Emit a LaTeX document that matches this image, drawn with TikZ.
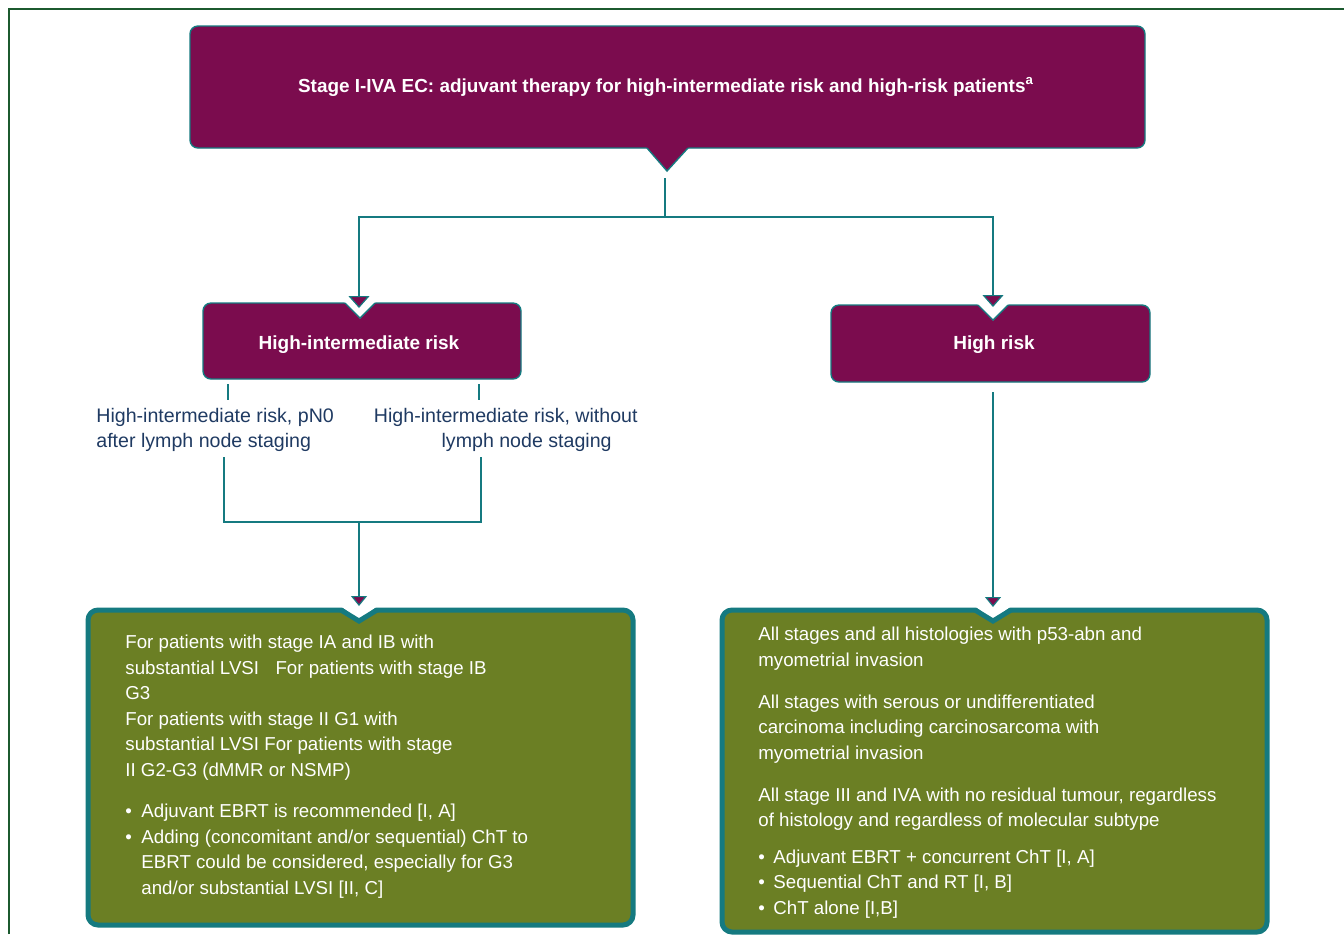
\documentclass[tikz,border=0pt]{standalone}
\usepackage{fontspec}
\setmainfont{Liberation Sans}
\usetikzlibrary{arrows.meta}
\definecolor{plum}{HTML}{7B0C4E}
\definecolor{boxolive}{HTML}{6B7F24}
\definecolor{tealc}{HTML}{157A80}
\definecolor{navyc}{HTML}{1F3A62}
\definecolor{framec}{HTML}{1C5A2F}
\newcommand\bulA{\makebox[8pt][l]{\textbullet}}
\newcommand\indA{\makebox[8pt]{}}
\newcommand\bulB{\makebox[7.5pt][l]{\textbullet}}
\begin{document}
\begin{tikzpicture}[x=0.5pt,y=-0.5pt,
  conn/.style={draw=tealc, line width=1.3pt},
  bigtip/.style={-{Triangle[width=10.5pt,length=6pt,fill=plum,line width=0.6pt]}},
  smalltip/.style={-{Triangle[width=8pt,length=5pt,fill=plum,line width=0.6pt]}},
  pbox/.style={draw=tealc, line width=0.7pt, fill=plum, rounded corners=4pt, inner sep=0pt},
  gbox/.style={draw=tealc, line width=2.5pt, fill=boxolive, rounded corners=5pt, inner sep=0pt},
  btext/.style={text=white, font=\bfseries\fontsize{9.5}{11}\selectfont, anchor=base, inner sep=0pt},
  wtext/.style={text=white, font=\fontsize{9.35}{12.75}\selectfont, align=left, anchor=base west, inner sep=0pt},
  ltext/.style={text=navyc, font=\fontsize{9.8}{12.5}\selectfont, inner sep=0pt, anchor=base west, align=left}]
\useasboundingbox (0,0) rectangle (1344,934);
% frame
\draw[framec, line width=1.2pt] (9,934) -- (9,9) -- (1344,9);

% top box
\node[pbox, minimum width=477.5pt, minimum height=61pt] (topBox) at (667.5,87) {};
\fill[plum] (646,146.5) -- (689,146.5) -- (667,171) -- cycle;
\draw[tealc, line width=0.7pt] (647,148) -- (667,171) -- (688,148);
\node[btext, font=\bfseries\fontsize{9.45}{11}\selectfont] (title) at (666,92) {Stage I-IVA EC: adjuvant therapy for high-intermediate risk and high-risk patients\textsuperscript{a}};

% high-intermediate box
\node[pbox, minimum width=159pt, minimum height=38pt] (hiBox) at (362,341) {};
\fill[white] (344,301.5) -- (376,301.5) -- (360,318.5) -- cycle;
\draw[tealc, line width=0.7pt] (345,303) -- (360,318) -- (375,303);
\node[btext] (hiText) at (359,349) {High-intermediate risk};

% high risk box
\node[pbox, minimum width=159.5pt, minimum height=38.5pt] (hrBox) at (990.5,343.5) {};
\fill[white] (977,303.5) -- (1009,303.5) -- (993,320.5) -- cycle;
\draw[tealc, line width=0.7pt] (978,305) -- (993,320) -- (1008,305);
\node[btext] (hrText) at (994,349) {High risk};

% green boxes
\node[gbox, minimum width=272.5pt, minimum height=157.5pt] (giBox) at (360.5,767.5) {};
\fill[white] (339,605) -- (379,605) -- (359,619.5) -- cycle;
\draw[tealc, line width=2.5pt] (341,610) -- (359,621) -- (377,610);
\node[gbox, minimum width=272.5pt, minimum height=161pt] (grBox) at (994.5,771) {};
\fill[white] (973,605) -- (1013,605) -- (993,619.5) -- cycle;
\draw[tealc, line width=2.5pt] (975,610) -- (993,621) -- (1011,610);

% coordinates
\coordinate (topOut) at (665,178);
\coordinate (jc) at (665,217);
\coordinate (hiTip) at (359,308);
\coordinate (hrTip) at (993,307);
\coordinate (tkA1) at (228,384);
\coordinate (tkA2) at (228,400);
\coordinate (tkB1) at (479,384);
\coordinate (tkB2) at (479,400);
\coordinate (lbA) at (224,457);
\coordinate (cA) at (224,522);
\coordinate (cB) at (481,522);
\coordinate (lbB) at (481,457);
\coordinate (jm) at (359,522);
\coordinate (giTip) at (359,606);
\coordinate (hrOut) at (993,392);
\coordinate (grTip) at (993,607);

% connectors
\draw[conn] (topOut) -- (jc);
\draw[conn, bigtip] (jc) -| (hiTip);
\draw[conn, bigtip] (jc) -| (hrTip);
\draw[conn] (tkA1) -- (tkA2);
\draw[conn] (tkB1) -- (tkB2);
\draw[conn] (lbA) -- (cA) -- (cB) -- (lbB);
\draw[conn, smalltip] (jm) -- (giTip);
\draw[conn, smalltip] (hrOut) -- (grTip);

% labels (anchored at the baseline of their last line)
\node[ltext] (lblA) at (96,447) {High-intermediate risk, pN0\\after lymph node staging};
\node[ltext, align=right, anchor=base east] (lblB) at (638,447) {High-intermediate risk, without\\lymph node staging\makebox[13pt]{}};

% green texts (anchored at the baseline of their last line)
\node[wtext] (giText) at (125,894) {For patients with stage IA and IB with\\
substantial LVSI\hspace{0.6em} For patients with stage IB\\
G3\\
For patients with stage II G1 with\\
substantial LVSI For patients with stage\\
II G2-G3 (dMMR or NSMP)\\[8pt]
\bulA Adjuvant EBRT is recommended [I, A]\\
\bulA Adding (concomitant and/or sequential) ChT to\\
\indA EBRT could be considered, especially for G3\\
\indA and/or substantial LVSI [II, C]};

\node[wtext] (grText) at (758,914) {All stages and all histologies with p53-abn and\\
myometrial invasion\\[8.25pt]
All stages with serous or undifferentiated\\
carcinoma including carcinosarcoma with\\
myometrial invasion\\[8.25pt]
All stage III and IVA with no residual tumour, regardless\\
of histology and regardless of molecular subtype\\[5.5pt]
\bulB Adjuvant EBRT + concurrent ChT [I, A]\\
\bulB Sequential ChT and RT [I, B]\\
\bulB ChT alone [I,B]};
\end{tikzpicture}
\end{document}
